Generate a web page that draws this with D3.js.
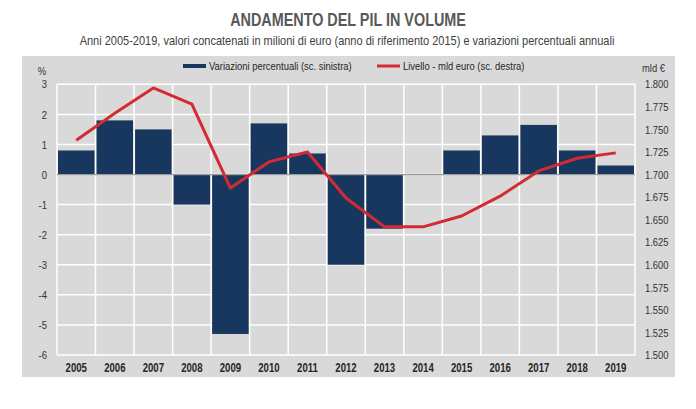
<!DOCTYPE html>
<html><head><meta charset="utf-8">
<script src="https://cdn.jsdelivr.net/npm/d3@7"></script>
<style>
body{margin:0;background:#fff;}
text{font-family:"Liberation Sans",Arial,sans-serif;}
</style></head>
<body><svg id="c" width="696" height="409"></svg>
<script>
const years = ["2005","2006","2007","2008","2009","2010","2011","2012","2013","2014","2015","2016","2017","2018","2019"];
const variazioni = [0.8,1.8,1.5,-1.0,-5.3,1.7,0.7,-3.0,-1.8,0.0,0.8,1.3,1.65,0.8,0.3];
const livello = [1.738,1.768,1.796,1.778,1.685,1.714,1.725,1.674,1.642,1.642,1.654,1.676,1.704,1.718,1.724];
const leftTicks = [3,2,1,0,-1,-2,-3,-4,-5,-6];
const rightTicks = [1.800,1.775,1.750,1.725,1.700,1.675,1.650,1.625,1.600,1.575,1.550,1.525,1.500];

const svg = d3.select("#c");
const L=57, R=635, T=84.3, B=355;
const x = d3.scaleBand().domain(years).range([L,R]).padding(0);
const yL = d3.scaleLinear().domain([-6,3]).range([B,T]);
const yR = d3.scaleLinear().domain([1.5,1.8]).range([B,T]);

function ntext(parent, px, py, sx, txt){
  const gg = parent.append("g").attr("transform",`translate(${px},${py}) scale(${sx},1)`);
  return gg.append("text").attr("x",0).attr("y",0).text(txt);
}

// background
svg.append("rect").attr("x",22).attr("y",56).attr("width",653).attr("height",321).attr("fill","#d9d9d9");

// titles
ntext(svg,348,26,0.8,"ANDAMENTO DEL PIL IN VOLUME").attr("text-anchor","middle")
  .attr("font-size",18).attr("font-weight","bold").attr("fill","#595959");
ntext(svg,347,45,0.88,"Anni 2005-2019, valori concatenati in milioni di euro (anno di riferimento 2015) e variazioni percentuali annuali")
  .attr("text-anchor","middle").attr("font-size",12.5).attr("fill","#404040");

// grid
const g = svg.append("g");
g.selectAll(".hg").data(leftTicks).join("line")
  .attr("x1",L).attr("x2",R).attr("y1",d=>yL(d)).attr("y2",d=>yL(d))
  .attr("stroke","#fff").attr("stroke-width",1.5);
const bounds = years.map(d=>x(d)).concat([R]);
g.selectAll(".vg").data(bounds).join("line")
  .attr("x1",d=>d).attr("x2",d=>d).attr("y1",T).attr("y2",B)
  .attr("stroke","#fff").attr("stroke-width",1.5);

// bars
svg.append("g").selectAll("rect").data(years).join("rect")
  .attr("x",d=>x(d)+1).attr("width",x.bandwidth()-2)
  .attr("y",(d,i)=>yL(Math.max(0,variazioni[i])))
  .attr("height",(d,i)=>Math.abs(yL(variazioni[i])-yL(0)))
  .attr("fill","#17375e");

// zero line
svg.append("line").attr("x1",L).attr("x2",R).attr("y1",yL(0)).attr("y2",yL(0))
  .attr("stroke","#9a9a9a").attr("stroke-width",1.2);

// line
const line = d3.line().x((d,i)=>x(years[i])+x.bandwidth()/2).y(d=>yR(d));
svg.append("path").datum(livello).attr("d",line).attr("fill","none")
  .attr("stroke","#d42a33").attr("stroke-width",3).attr("stroke-linejoin","round");

// axes
const axL = d3.axisLeft(yL).tickValues(leftTicks).tickSize(0).tickPadding(0).tickFormat(d=>String(d));
const gl = svg.append("g").attr("transform",`translate(47,0)`).call(axL);
gl.select(".domain").remove();
gl.selectAll("text").attr("font-size",11.5).attr("fill","#333").attr("font-family","Liberation Sans, Arial, sans-serif").attr("transform","scale(0.82,1)");

const axR = d3.axisRight(yR).tickValues(rightTicks).tickSize(0).tickPadding(0).tickFormat(d=>d3.format(".3f")(d));
const gr = svg.append("g").attr("transform",`translate(645,0)`).call(axR);
gr.select(".domain").remove();
gr.selectAll("text").attr("font-size",11.5).attr("fill","#333").attr("font-family","Liberation Sans, Arial, sans-serif").attr("transform","scale(0.82,1)");

const axB = d3.axisBottom(x).tickSize(0).tickPadding(0);
const gb = svg.append("g").attr("transform",`translate(0,${B+8})`).call(axB);
gb.select(".domain").remove();
gb.selectAll("text").attr("font-size",12).attr("font-weight","bold").attr("fill","#262626").attr("font-family","Liberation Sans, Arial, sans-serif").attr("transform","scale(0.8,1)");

ntext(svg,42,75,0.82,"%").attr("text-anchor","middle").attr("font-size",11.5).attr("fill","#333");
ntext(svg,642,72,0.82,"mld €").attr("font-size",11.5).attr("fill","#333");

// legend
const leg = svg.append("g");
leg.append("line").attr("x1",183).attr("x2",206).attr("y1",66).attr("y2",66).attr("stroke","#17375e").attr("stroke-width",4);
ntext(leg,209,70,0.82,"Variazioni percentuali (sc. sinistra)").attr("font-size",11.5).attr("fill","#262626");
leg.append("line").attr("x1",377).attr("x2",400).attr("y1",66).attr("y2",66).attr("stroke","#d42a33").attr("stroke-width",3);
ntext(leg,403,70,0.82,"Livello - mld euro (sc. destra)").attr("font-size",11.5).attr("fill","#262626");
</script></body></html>
